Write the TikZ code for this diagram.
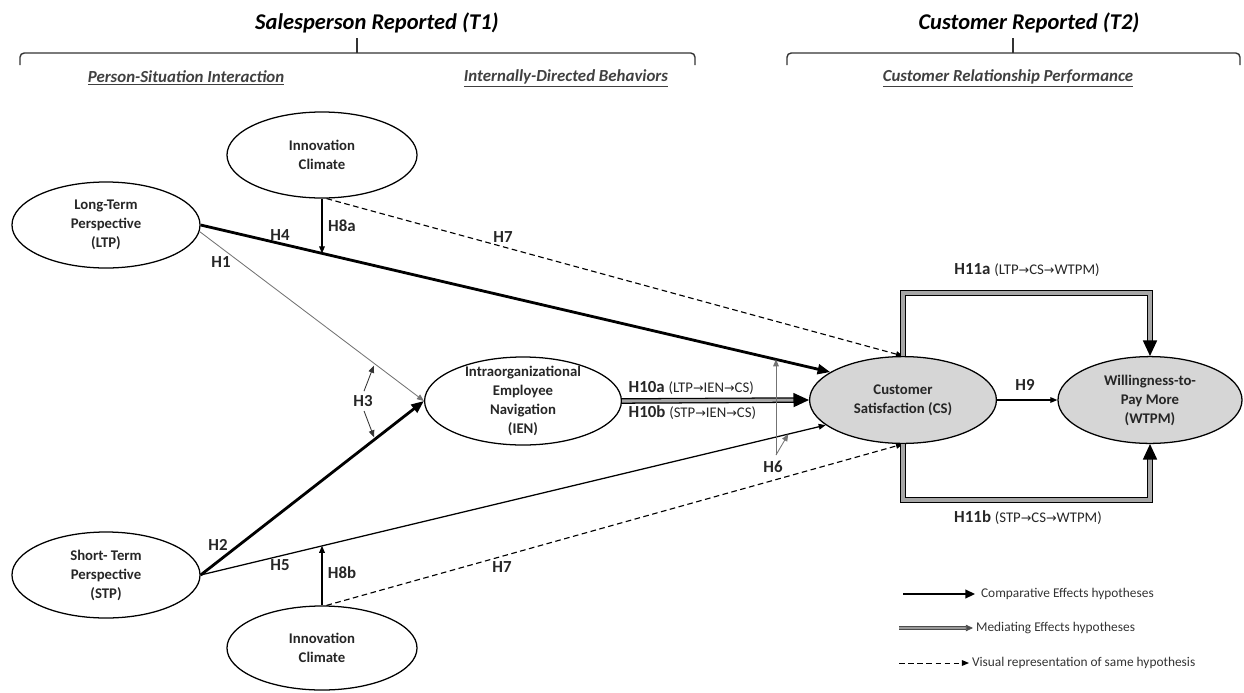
\documentclass[tikz,border=0pt]{standalone}
\usepackage{fontspec}
\setmainfont{Carlito}
\newfontfamily\arrowfont{DejaVu Sans}
\usetikzlibrary{shapes.geometric,arrows.meta,positioning,calc}

\newcommand{\thru}{{\arrowfont\fontsize{9}{10}\selectfont →}}
\newcommand{\pathnote}[1]{{\fontsize{10.5}{12}\selectfont\mdseries #1}}

\begin{document}
\begin{tikzpicture}[
    x=0.025cm, y=-0.025cm,
    ell/.style={ellipse, draw, line width=0.9pt, inner sep=0pt,
                align=center, text=black!85,
                font=\fontsize{10.5}{13.5}\selectfont\bfseries},
    elltext/.style={align=center, text=black!85, inner sep=0pt,
                    font=\fontsize{10.5}{13.5}\selectfont\bfseries},
    outcome/.style={ell, fill=black!16},
    head/.style={font=\fontsize{16}{18}\selectfont\bfseries\itshape},
    subhead/.style={font=\fontsize{12}{14}\selectfont\bfseries\itshape, text=black!75},
    bracket/.style={line width=1pt, draw=black!80, rounded corners=3pt},
    hlbl/.style={font=\fontsize{12}{14}\selectfont\bfseries, text=black!85, inner sep=1pt},
    legtxt/.style={font=\fontsize{9.5}{11}\selectfont, text=black!80, inner sep=2pt},
    cmp/.style={-{Triangle[length=9pt,width=7pt]}, line width=2pt},
    med/.style={-{Triangle[length=11pt,width=10pt]}, line width=0.9pt,
                double=black!35, double distance=2.2pt},
    mid/.style={-{Triangle[length=5pt,width=4pt]}, line width=0.9pt},
    weak/.style={-{Triangle[length=5pt,width=4pt]}, line width=0.6pt, draw=black!55},
    dsh/.style={-{Triangle[length=5pt,width=4pt]}, line width=0.8pt,
                dash pattern=on 4pt off 2.5pt},
  ]
  \useasboundingbox (0,0) rectangle (1244,692);

  % === Headings ===
  \node[head] (t1) at (377,23) {Salesperson Reported (T1)};
  \node[head] (t2) at (1029,23) {Customer Reported (T2)};
  \draw[bracket] (20,65) |- (695,53) -- (695,65);
  \draw[bracket] (357,53) -- (357,38);
  \draw[bracket] (787,65) |- (1240,53) -- (1240,65);
  \draw[bracket] (1013,53) -- (1013,38);
  \node[subhead] (psi) at (186,78) {\underline{Person-Situation Interaction}};
  \node[subhead] (idb) at (566,78) {\underline{Internally-Directed Behaviors}};
  \node[subhead] (crp) at (1008,78) {\underline{Customer Relationship Performance}};

  % === Constructs ===
  \node[ell, minimum width=4.75cm, minimum height=2.15cm] (icA) at (322,155) {Innovation\\Climate};
  \node[ell, minimum width=4.7cm, minimum height=2.15cm] (ltp) at (106,225) {Long-Term\\Perspective\\(LTP)};
  \node[ell, minimum width=4.7cm, minimum height=2.15cm] (stp) at (106,575) {Short- Term\\Perspective\\(STP)};
  \node[ell, minimum width=4.75cm, minimum height=2.1cm] (icB) at (322,648) {Innovation\\Climate};
  \node[ell, minimum width=4.92cm, minimum height=2.2cm] (ien) at (523,401) {};
  \node[elltext] (ientxt) at (ien) {Intraorganizational\\Employee\\Navigation\\(IEN)};
  \node[outcome, minimum width=4.67cm, minimum height=2.17cm] (cs) at (903,400) {Customer\\Satisfaction (CS)};
  \node[outcome, minimum width=4.6cm, minimum height=2.17cm] (wtpm) at (1150,400) {Willingness-to-\\Pay More\\(WTPM)};

  % === Direct paths ===
  \draw[cmp] (ltp.east) -- (cs.159) coordinate[pos=0.193] (h8aEnd) coordinate[pos=0.913] (h6Top);
  \draw[weak] (ltp.-4) -- (ien.west) coordinate[pos=0.78] (h3Up);
  \draw[cmp] (stp.east) -- (ien.west) coordinate[pos=0.78] (h3Dn);
  \draw[mid] (stp.east) -- (cs.198) coordinate[pos=0.195] (h8bEnd) coordinate[pos=0.94] (h6Dn);
  \draw[med] (ien.east) -- (cs.west);
  \draw[mid] (cs.east) -- (wtpm.west);

  % === Same hypothesis (H7) ===
  \draw[dsh] (icA.-84) -- (cs.north);
  \draw[dsh] (icB.84) -- (cs.south);

  % === Moderation ===
  \draw[mid] (icA.south) -- (icA.south |- h8aEnd);
  \draw[mid] (icB.north) -- (icB.north |- h8bEnd);
  \coordinate (h6Base) at (776,455);
  \draw[weak] (h6Base) -- (h6Base |- h6Top);
  \draw[weak] (h6Base) -- (h6Dn);
  \node[hlbl] (h3) at (363,401) {H3};
  \draw[weak, draw=black!80, shorten <=2pt, shorten >=1.5pt] (h3.north) -- (h3Up);
  \draw[weak, draw=black!80, shorten <=2pt, shorten >=1.5pt] (h3.south) -- (h3Dn);

  % === Mediation through CS ===
  \coordinate (topRail) at (1026,293);
  \coordinate (botRail) at (1026,500);
  \draw[med] (cs.north) |- (topRail) -| (wtpm.north);
  \draw[med] (cs.south) |- (botRail) -| (wtpm.south);

  % === Labels ===
  \node[hlbl] (h1) at (221,262) {H1};
  \node[hlbl] (h4) at (280,235) {H4};
  \node[hlbl] (h8a) at (342,226) {H8a};
  \node[hlbl] (h7a) at (503,237) {H7};
  \node[hlbl] (h2) at (218,545) {H2};
  \node[hlbl] (h5) at (280,565) {H5};
  \node[hlbl] (h8b) at (342,573) {H8b};
  \node[hlbl] (h7b) at (502,567) {H7};
  \node[hlbl] (h6) at (773,467) {H6};
  \node[hlbl] (h9) at (1025,385) {H9};
  \node[hlbl, anchor=west] (h10a) at (627,388) {H10a \pathnote{(LTP\thru IEN\thru CS)}};
  \node[hlbl, anchor=west] (h10b) at (627,413) {H10b \pathnote{(STP\thru IEN\thru CS)}};
  \node[hlbl] (h11a) at (1027,270) {H11a \pathnote{(LTP\thru CS\thru WTPM)}};
  \node[hlbl] (h11b) at (1028,518) {H11b \pathnote{(STP\thru CS\thru WTPM)}};

  % === Legend ===
  \node[legtxt, anchor=west] (legCmp) at (978,594) {Comparative Effects hypotheses};
  \node[legtxt, anchor=west] (legMed) at (973,628) {Mediating Effects hypotheses};
  \node[legtxt, anchor=west] (legDsh) at (969,663) {Visual representation of same hypothesis};
  \coordinate (legCmpS) at (903,594);
  \coordinate (legMedS) at (899,628);
  \coordinate (legDshS) at (899,663);
  \draw[cmp, line width=1.8pt, -{Triangle[length=7pt,width=6pt]}, shorten >=2pt] (legCmpS) -- (legCmp.west);
  \draw[line width=0.5pt, draw=black!70, double=black!40, double distance=1.6pt,
        -{Triangle[length=5pt,width=4.5pt]}] (legMedS) -- (legMed.west);
  \draw[dsh, line width=0.7pt] (legDshS) -- (legDsh.west);

\end{tikzpicture}
\end{document}
